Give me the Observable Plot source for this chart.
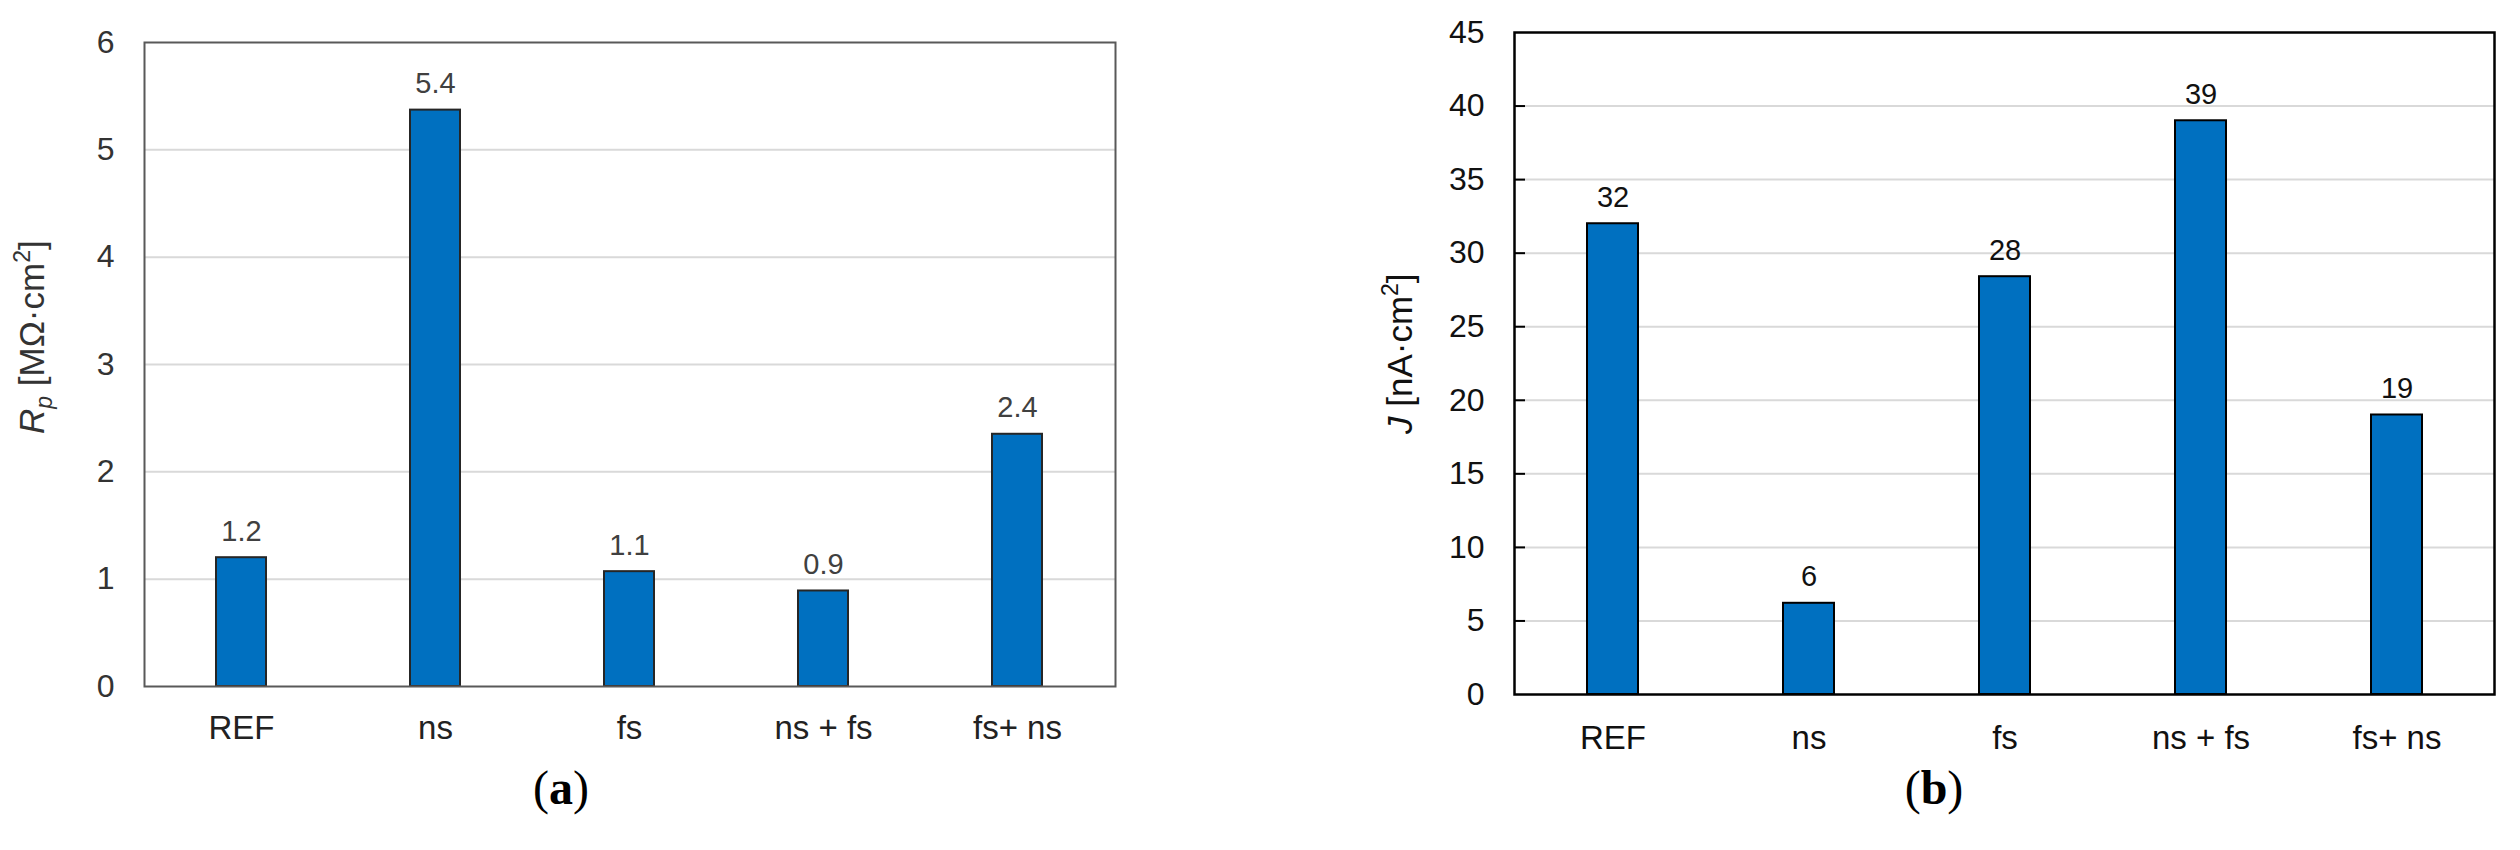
<!DOCTYPE html>
<html>
<head>
<meta charset="utf-8">
<script src="https://cdn.jsdelivr.net/npm/d3@7"></script>
<script src="https://cdn.jsdelivr.net/npm/@observablehq/plot@0.6"></script>
<style>
  html, body { margin: 0; padding: 0; background: #ffffff; }
  #wrap { position: relative; width: 2520px; height: 850px; overflow: hidden; }
  #left, #right { position: absolute; top: 0; width: 1260px; height: 850px; }
  #left { left: 0; }
  #right { left: 1260px; }
</style>
</head>
<body>
<div id="wrap">
  <div id="left"></div>
  <div id="right"></div>
</div>
<script>
// ---- data ----
const categories = ["REF", "ns", "fs", "ns + fs", "fs+ ns"];
const rpValues = [1.2, 5.37, 1.07, 0.89, 2.35];
const rpLabels = ["1.2", "5.4", "1.1", "0.9", "2.4"];
const jValues = [32, 6.2, 28.4, 39, 19];
const jLabels = ["32", "6", "28", "39", "19"];
const rpTicks = [0, 1, 2, 3, 4, 5, 6];
const rpGrid = [1, 2, 3, 4, 5];
const jTicks = [0, 5, 10, 15, 20, 25, 30, 35, 40, 45];
const jGrid = [5, 10, 15, 20, 25, 30, 35, 40];

const rpTable = categories.map((c, i) => ({cat: c, value: rpValues[i], label: rpLabels[i]}));
const jTable = categories.map((c, i) => ({cat: c, value: jValues[i], label: jLabels[i]}));

const sans = "'Liberation Sans', Arial, Helvetica, sans-serif";
const serif = "'Liberation Serif', 'Times New Roman', serif";
const plain = d => String(d);

// ---- left chart (a) ----
const L = {w: 1260, h: 850, ml: 144, mr: 145, mt: 42, mb: 164};
const left = Plot.plot({
  width: L.w, height: L.h,
  marginLeft: L.ml, marginRight: L.mr, marginTop: L.mt, marginBottom: L.mb,
  style: {fontFamily: sans, background: "transparent", overflow: "visible"},
  x: {domain: categories, paddingInner: 0.74, paddingOuter: 0.37, label: null},
  y: {domain: [0, 6], label: null},
  marks: [
    Plot.ruleY(rpGrid, {stroke: "#d9d9d9", strokeWidth: 2}),
    Plot.barY(rpTable, {x: "cat", y: "value", fill: "#0070C0", stroke: "#262626", strokeWidth: 2}),
    Plot.text(rpTable, {x: "cat", y: "value", text: "label", dy: -17, lineAnchor: "bottom", fontSize: 29, fill: "#404040"}),
    Plot.frame({stroke: "#595959", strokeWidth: 2}),
    Plot.axisY(rpTicks, {tickSize: 0, tickPadding: 30, fontSize: 32, fill: "#333333", label: null, tickFormat: plain}),
    Plot.axisX({tickSize: 0, tickPadding: 29, fontSize: 33, fill: "#222222", label: null})
  ]
});
document.getElementById("left").appendChild(left);

{
  const s = d3.select(left);
  const t = s.append("text")
    .attr("transform", "translate(44,434) rotate(-90)")
    .attr("font-family", sans).attr("font-size", 35).attr("fill", "#333333")
    .attr("text-anchor", "start");
  t.append("tspan").attr("font-style", "italic").text("R");
  t.append("tspan").attr("font-style", "italic").attr("font-size", 23).attr("dy", 8).text("p");
  t.append("tspan").attr("dy", -8).text(" [MΩ·cm");
  t.append("tspan").attr("font-size", 23).attr("dy", -14).text("2");
  t.append("tspan").attr("dy", 14).text("]");

  const c = s.append("text")
    .attr("x", 561).attr("y", 804)
    .attr("text-anchor", "middle")
    .attr("font-family", serif).attr("font-size", 48).attr("fill", "#000");
  c.append("tspan").text("(");
  c.append("tspan").attr("font-weight", "bold").text("a");
  c.append("tspan").text(")");
}

// ---- right chart (b) ----
const R = {w: 1260, h: 850, ml: 254, mr: 26, mt: 32, mb: 156};
const frameW = R.w - R.ml - R.mr;
const right = Plot.plot({
  width: R.w, height: R.h,
  marginLeft: R.ml, marginRight: R.mr, marginTop: R.mt, marginBottom: R.mb,
  style: {fontFamily: sans, background: "transparent", overflow: "visible"},
  x: {domain: categories, paddingInner: 0.74, paddingOuter: 0.37, label: null},
  y: {domain: [0, 45], label: null},
  marks: [
    Plot.ruleY(jGrid, {stroke: "#d9d9d9", strokeWidth: 2}),
    Plot.tickY(jGrid, {y: d => d, stroke: "#000000", strokeWidth: 2, insetRight: frameW - 11}),
    Plot.barY(jTable, {x: "cat", y: "value", fill: "#0070C0", stroke: "#000000", strokeWidth: 2}),
    Plot.text(jTable, {x: "cat", y: "value", text: "label", dy: -17, lineAnchor: "bottom", fontSize: 29, fill: "#111111"}),
    Plot.frame({stroke: "#000000", strokeWidth: 2.5}),
    Plot.axisY(jTicks, {tickSize: 0, tickPadding: 30, fontSize: 32, fill: "#111111", label: null, tickFormat: plain}),
    Plot.axisX({tickSize: 0, tickPadding: 31, fontSize: 33, fill: "#111111", label: null})
  ]
});
document.getElementById("right").appendChild(right);

{
  const s = d3.select(right);
  const t = s.append("text")
    .attr("transform", "translate(152,434) rotate(-90)")
    .attr("font-family", sans).attr("font-size", 35).attr("fill", "#111111")
    .attr("text-anchor", "start");
  t.append("tspan").attr("font-style", "italic").text("J");
  t.append("tspan").text(" [nA·cm");
  t.append("tspan").attr("font-size", 23).attr("dy", -14).text("2");
  t.append("tspan").attr("dy", 14).text("]");

  const c = s.append("text")
    .attr("x", 674).attr("y", 804)
    .attr("text-anchor", "middle")
    .attr("font-family", serif).attr("font-size", 48).attr("fill", "#000");
  c.append("tspan").text("(");
  c.append("tspan").attr("font-weight", "bold").text("b");
  c.append("tspan").text(")");
}
</script>
</body>
</html>
